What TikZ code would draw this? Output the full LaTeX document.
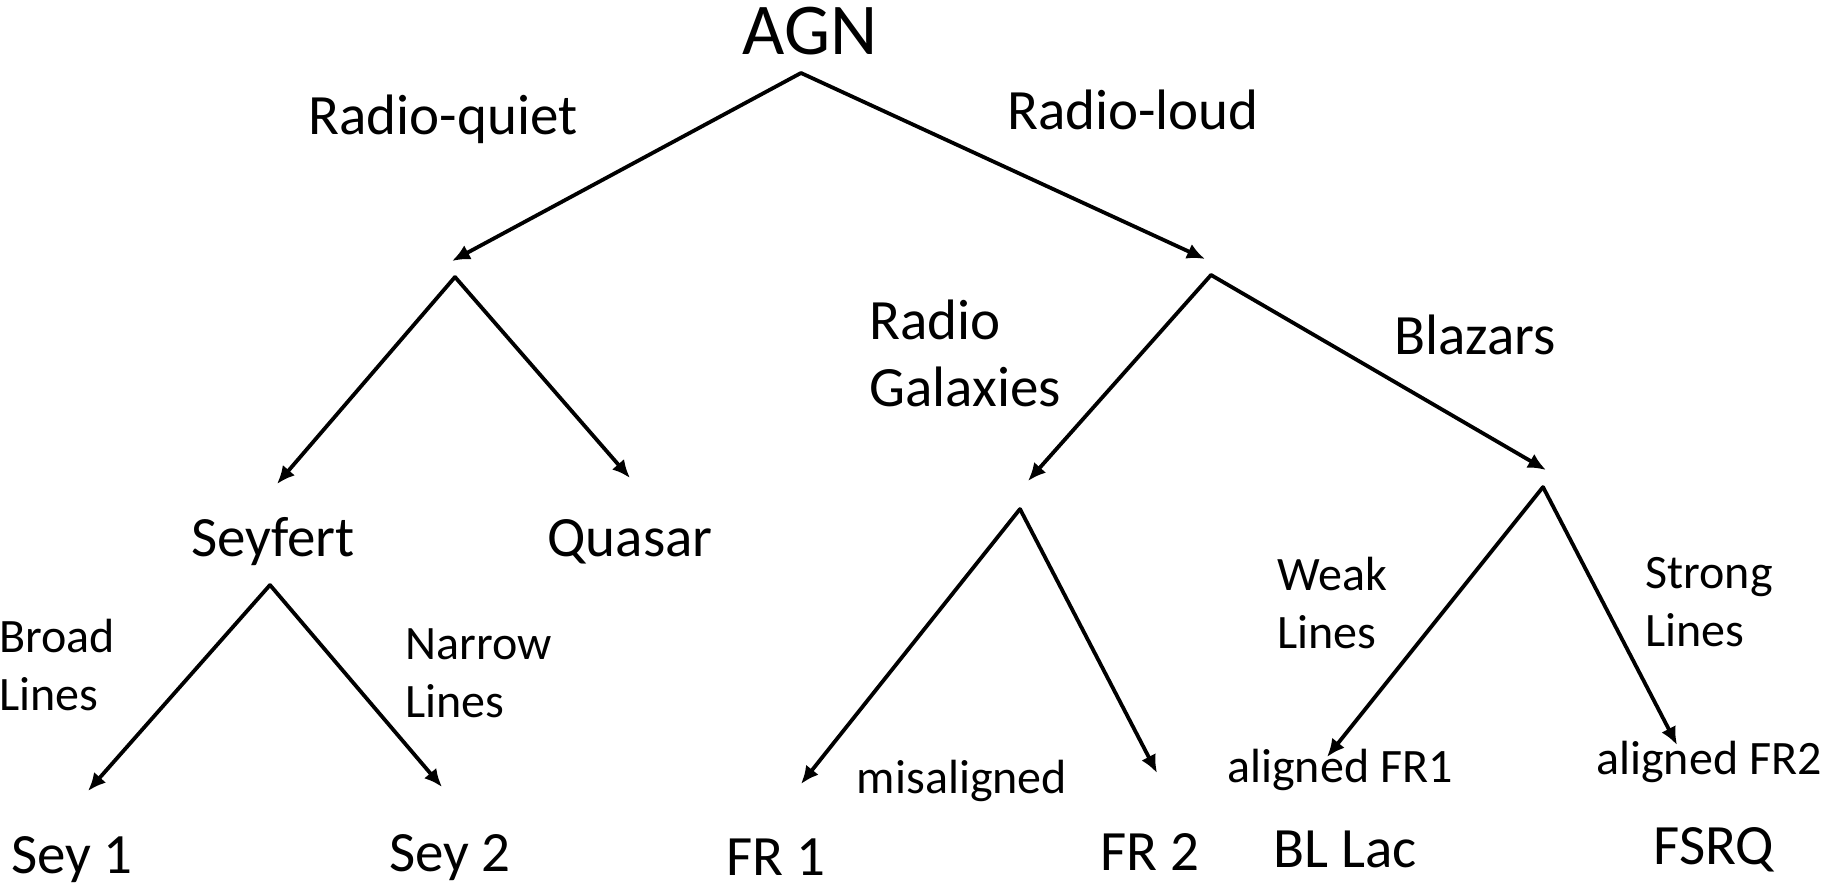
\documentclass[tikz,border=0pt]{standalone}
\usepackage{fontspec}
\setmainfont{Carlito}
\usetikzlibrary{arrows.meta}
\begin{document}
\begin{tikzpicture}[x=0.5pt,y=-0.5pt,
  big/.style={font=\fontsize{36.5}{44}\selectfont, inner sep=0pt, anchor=base},
  lbl/.style={font=\fontsize{28.5}{34}\selectfont, inner sep=0pt, anchor=base},
  sml/.style={font=\fontsize{24}{29}\selectfont, inner sep=0pt, anchor=base},
  twoline/.style={font=\fontsize{24}{29}\selectfont, inner sep=0pt, align=left, anchor=base west},
  branch/.style={line width=1.9pt, line cap=round, -{Latex[length=9pt,width=8pt]}}]
\useasboundingbox (0,0) rectangle (1825,887);

% branching points and arrow tips
\coordinate (a0) at (801,73);
\coordinate (rqtip) at (452,261);
\coordinate (rltip) at (1205,259);
\coordinate (l1) at (455,277);
\coordinate (seytip) at (277,484);
\coordinate (qsotip) at (630,478);
\coordinate (s1) at (270,585);
\coordinate (sey1tip) at (88,791);
\coordinate (sey2tip) at (442,787);
\coordinate (r1) at (1211,275);
\coordinate (rgtip) at (1028,481);
\coordinate (blztip) at (1546,470);
\coordinate (g1) at (1020,509);
\coordinate (fr1tip) at (801,784);
\coordinate (fr2tip) at (1157,773);
\coordinate (b1) at (1543,487);
\coordinate (bltip) at (1327,757);
\coordinate (fsrqtip) at (1677,745);

% labels
\node[big] (agn) at (810,55) {AGN};
\node[lbl] (rq) at (443,135) {Radio-quiet};
\node[lbl] (rl) at (1133,130) {Radio-loud};
\node[lbl] (seyfert) at (273,556) {Seyfert};
\node[lbl] (quasar) at (630,556) {Quasar};
\node[twoline] (broad) at (-1,710) {Broad\\Lines};
\node[twoline] (narrow) at (405,717) {Narrow\\Lines};
\node[lbl] (sey1) at (72,873) {Sey 1};
\node[lbl] (sey2) at (450,871) {Sey 2};
\node[font=\fontsize{28.5}{33.5}\selectfont, inner sep=0pt, align=left, anchor=base west] (rg) at (869,407) {Radio\\Galaxies};
\node[lbl] (blazars) at (1475,355) {Blazars};
\node[sml] (mis) at (962,793) {misaligned};
\node[lbl] (fr1) at (776,875) {FR 1};
\node[lbl] (fr2) at (1150,870) {FR 2};
\node[twoline] (weak) at (1277,648) {Weak\\Lines};
\node[twoline] (strong) at (1645,646) {Strong\\Lines};
\node[sml] (al1) at (1340,782) {aligned FR1};
\node[sml] (al2) at (1709,774) {aligned FR2};
\node[lbl] (bllac) at (1345,867) {BL Lac};
\node[lbl] (fsrq) at (1714,864) {FSRQ};

% connectors
\draw[branch] (a0) -- (rqtip);
\draw[branch] (a0) -- (rltip);
\draw[branch] (l1) -- (seytip);
\draw[branch] (l1) -- (qsotip);
\draw[branch] (s1) -- (sey1tip);
\draw[branch] (s1) -- (sey2tip);
\draw[branch] (r1) -- (rgtip);
\draw[branch] (r1) -- (blztip);
\draw[branch] (g1) -- (fr1tip);
\draw[branch] (g1) -- (fr2tip);
\draw[branch] (b1) -- (bltip);
\draw[branch] (b1) -- (fsrqtip);
\end{tikzpicture}
\end{document}
